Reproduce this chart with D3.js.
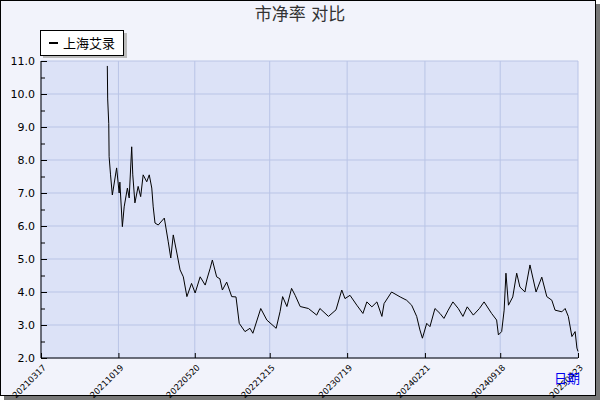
<!DOCTYPE html>
<html><head><meta charset="utf-8">
<script src="https://cdn.jsdelivr.net/npm/d3@7"></script>
<style>body{margin:0;background:#fff}</style>
</head><body><div id="chart"></div>
<script>
// days after 2021-03-17 and 市净率 values
var dayOffsets = [185,186,189,190,194,199,211,218,220,227,232,241,246,253,256,262,271,278,285,295,302,309,313,318,327,344,355,362,369,379,388,397,407,420,430,444,458,472,478,490,499,506,518,532,544,553,569,583,591,613,630,656,667,674,686,699,709,723,746,769,778,802,823,839,848,862,881,898,909,923,937,951,957,978,1002,1020,1034,1048,1057,1064,1076,1085,1099,1113,1124,1136,1149,1164,1177,1189,1206,1223,1236,1257,1271,1276,1285,1292,1297,1304,1316,1327,1336,1350,1364,1381,1397,1411,1425,1434,1453,1462,1471,1481,1490,1495,1498];
var pbValues = [10.85,9.85,9.1,8.1,7.55,6.94,7.76,7.0,7.33,5.98,6.58,7.15,6.85,8.4,7.55,6.7,7.2,6.89,7.55,7.34,7.55,7.15,6.58,6.09,6.03,6.24,5.52,5.03,5.73,5.18,4.67,4.46,3.86,4.26,3.97,4.46,4.21,4.72,4.97,4.46,4.4,4.06,4.3,3.86,3.85,3.05,2.8,2.9,2.75,3.5,3.15,2.9,3.41,3.86,3.56,4.11,3.9,3.56,3.5,3.3,3.5,3.26,3.46,4.06,3.8,3.9,3.6,3.35,3.7,3.55,3.7,3.26,3.65,4.0,3.85,3.75,3.6,3.26,2.85,2.6,3.05,2.95,3.5,3.35,3.2,3.45,3.7,3.5,3.26,3.55,3.3,3.5,3.7,3.35,3.15,2.7,2.8,3.45,4.57,3.6,3.85,4.57,4.15,4.0,4.82,4.0,4.45,3.86,3.75,3.45,3.4,3.5,3.26,2.65,2.8,2.3,2.2];
var tickLabels = ["20210317","20211019","20220520","20221215","20230719","20240221","20240918","20250423"];
var yTicks = [2,3,4,5,6,7,8,9,10,11];
var seriesName = "上海艾录";
var titleText = "市净率  对比";

var W = 600, H = 400;
var margin = {top: 61, right: 22, bottom: 42, left: 41};
var width = W - margin.left - margin.right;
var height = H - margin.top - margin.bottom;
var font = "'DejaVu Sans', 'Noto Sans CJK SC', sans-serif";

var svg = d3.select("#chart").append("svg")
  .attr("width", W).attr("height", H)
  .style("font-family", font);

// frame with shadow
svg.append("rect").attr("x", 4).attr("y", 4).attr("width", W - 4).attr("height", H - 4).attr("fill", "#777");
svg.append("rect").attr("x", 0.5).attr("y", 0.5).attr("width", W - 5).attr("height", H - 5)
  .attr("fill", "#f2f3fb").attr("stroke", "#000");

svg.append("text").attr("x", W / 2).attr("y", 20).attr("text-anchor", "middle")
  .attr("font-size", 17).attr("fill", "#333").text(titleText);

var parse = d3.timeParse("%Y%m%d");
var start = parse("20210317");
var x = d3.scaleTime().domain([start, parse("20250423")]).range([0, width]);
var y = d3.scaleLinear().domain([2, 11]).range([height, 0]);

var g = svg.append("g").attr("transform", `translate(${margin.left},${margin.top})`);
g.append("rect").attr("width", width).attr("height", height).attr("fill", "#dce2f7");

var tickDates = tickLabels.map(parse);
g.selectAll(".vg").data(tickDates).enter().append("line")
  .attr("x1", d => x(d)).attr("x2", d => x(d)).attr("y1", 0).attr("y2", height)
  .attr("stroke", "#b9c4e6");
g.selectAll(".hg").data(yTicks).enter().append("line")
  .attr("x1", 0).attr("x2", width).attr("y1", d => y(d)).attr("y2", d => y(d))
  .attr("stroke", "#b9c4e6");

var pts = dayOffsets.map((d, i) => ({date: d3.timeDay.offset(start, d), v: pbValues[i]}));
g.append("path").datum(pts)
  .attr("fill", "none").attr("stroke", "#000").attr("stroke-width", 1)
  .attr("d", d3.line().x(d => x(d.date)).y(d => y(d.v)));

// axes
var yAxis = d3.axisLeft(y).tickValues(d3.range(2, 11.01, 0.5)).tickSize(5)
  .tickFormat(d => d % 1 === 0 ? d3.format(".1f")(d) : "");
g.append("g").call(yAxis).call(a => {
  a.select(".domain").attr("d", `M0,0V${height}`);
  a.selectAll("text").attr("font-size", 11).attr("font-family", font).attr("fill", "#000").attr("x", -6);
  a.selectAll(".tick line").attr("x2", d => d % 1 === 0 ? 6 : 4);
});
var xAxis = d3.axisBottom(x).tickValues(tickDates).tickSize(-5).tickFormat((d, i) => tickLabels[i]);
g.append("g").attr("transform", `translate(0,${height})`).call(xAxis).call(a => {
  a.select(".domain").attr("d", `M0,0H${width}`);
  a.selectAll("text").attr("font-size", 8.5).attr("font-family", font).attr("fill", "#000")
    .attr("text-anchor", "end").attr("x", 0).attr("y", 0).attr("dy", "0.35em")
    .attr("transform", "translate(3,8) rotate(-45)");
});

svg.append("text").attr("x", W - 20).attr("y", 383).attr("text-anchor", "end")
  .attr("font-size", 13).attr("fill", "#0000ee").text("日期");

// legend
svg.append("rect").attr("x", 43).attr("y", 33).attr("width", 84).attr("height", 25).attr("fill", "#bbb");
svg.append("rect").attr("x", 40.5).attr("y", 30.5).attr("width", 83).attr("height", 25)
  .attr("fill", "#fff").attr("stroke", "#000");
svg.append("line").attr("x1", 49).attr("x2", 58).attr("y1", 43).attr("y2", 43).attr("stroke", "#000").attr("stroke-width", 2);
svg.append("text").attr("x", 63).attr("y", 48).attr("font-size", 13).text(seriesName);
</script></body></html>
